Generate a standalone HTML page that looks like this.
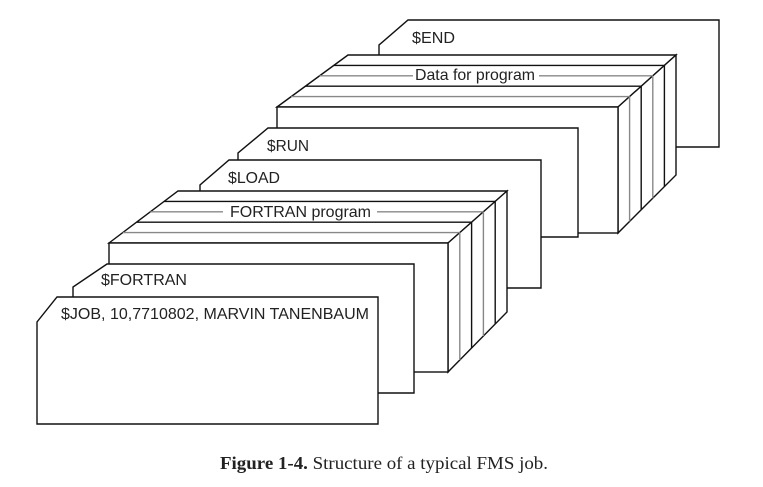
<!DOCTYPE html>
<html><head><meta charset="utf-8"><style>
html,body{margin:0;padding:0;background:#fff;}
svg{display:block;}
text{font-family:"Liberation Sans",sans-serif;font-size:16px;fill:#222;}
.cap{font-family:"Liberation Serif",serif;font-size:17.5px;}
</style></head><body>
<svg width="763" height="487" viewBox="0 0 763 487" stroke-linejoin="miter">
<g fill="#fff" stroke="#111" stroke-width="1.4">
<g>
<polygon points="379,160 379,45 408,20 719,20 719,147 379,147"/>
<text x="412" y="43" stroke="none" textLength="43" lengthAdjust="spacingAndGlyphs">$END</text>
</g>
<g>
<polygon points="277,107 348,55 676,55 618,107"/>
<polygon points="618,107 676,55 676,175 618,233"/>
<rect x="277" y="107" width="341" height="126"/>
<line x1="333.8" y1="65.4" x2="664.4" y2="65.4"/>
<line x1="319.6" y1="75.8" x2="413" y2="75.8" stroke="#888"/>
<line x1="539" y1="75.8" x2="652.8" y2="75.8" stroke="#888"/>
<line x1="305.4" y1="86.2" x2="641.2" y2="86.2"/>
<line x1="291.2" y1="96.6" x2="629.6" y2="96.6" stroke="#888"/>
<line x1="629.6" y1="96.6" x2="629.6" y2="221.4" stroke="#888"/>
<line x1="641.2" y1="86.2" x2="641.2" y2="209.8"/>
<line x1="652.8" y1="75.8" x2="652.8" y2="198.2" stroke="#888"/>
<line x1="664.4" y1="65.4" x2="664.4" y2="186.6"/>
<text x="415" y="80" stroke="none" textLength="120" lengthAdjust="spacingAndGlyphs">Data for program</text>
</g>
<g>
<polygon points="238,250 238,153 268,128 578,128 578,237 238,237"/>
<text x="267" y="151" stroke="none" textLength="42" lengthAdjust="spacingAndGlyphs">$RUN</text>
</g>
<g>
<polygon points="200,288 200,185 229,160 541,160 541,288"/>
<text x="228" y="183" stroke="none" textLength="52" lengthAdjust="spacingAndGlyphs">$LOAD</text>
</g>
<g>
<polygon points="109,243 178,191 507,191 448,243"/>
<polygon points="448,243 507,191 507,312 448,372"/>
<rect x="109" y="243" width="339" height="129"/>
<line x1="164.2" y1="201.4" x2="495.2" y2="201.4"/>
<line x1="150.4" y1="211.8" x2="223" y2="211.8" stroke="#888"/>
<line x1="377" y1="211.8" x2="483.4" y2="211.8" stroke="#888"/>
<line x1="136.6" y1="222.2" x2="471.6" y2="222.2"/>
<line x1="122.8" y1="232.6" x2="459.8" y2="232.6" stroke="#888"/>
<line x1="459.8" y1="232.6" x2="459.8" y2="360" stroke="#888"/>
<line x1="471.6" y1="222.2" x2="471.6" y2="348"/>
<line x1="483.4" y1="211.8" x2="483.4" y2="336" stroke="#888"/>
<line x1="495.2" y1="201.4" x2="495.2" y2="324"/>
<text x="230" y="217" stroke="none" textLength="141" lengthAdjust="spacingAndGlyphs">FORTRAN program</text>
</g>
<g>
<polygon points="73,393 73,287 107,264 414,264 414,393"/>
<text x="101" y="285" stroke="none" textLength="86" lengthAdjust="spacingAndGlyphs">$FORTRAN</text>
</g>
<g>
<polygon points="37,424 37,322 57,297 378,297 378,424"/>
<text x="61" y="319" stroke="none" textLength="308" lengthAdjust="spacingAndGlyphs">$JOB, 10,7710802, MARVIN TANENBAUM</text>
</g>
</g>
<text class="cap" x="220" y="469" textLength="328" lengthAdjust="spacingAndGlyphs"><tspan font-weight="bold">Figure 1-4.</tspan>  Structure of a typical FMS job.</text>
</svg>
</body></html>
